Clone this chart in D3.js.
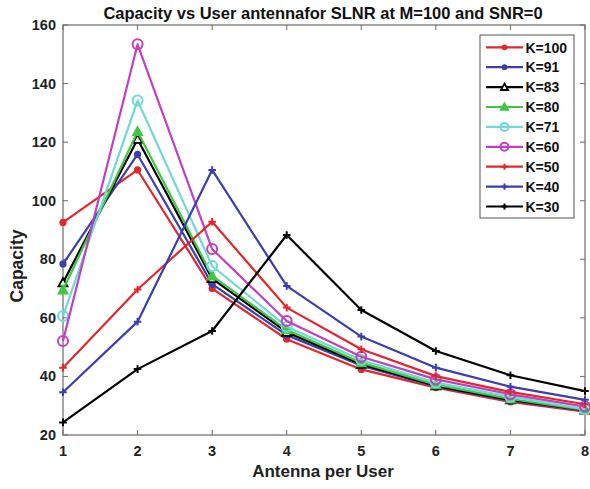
<!DOCTYPE html>
<html>
<head>
<meta charset="utf-8">
<script src="https://cdn.jsdelivr.net/npm/d3@7"></script>
<style>
  html, body { margin: 0; padding: 0; background: #fff; }
  svg { display: block; font-family: "Liberation Sans", Arial, sans-serif; }
</style>
</head>
<body>
<svg id="chart" width="590" height="489"></svg>
<script>
// Antenna count per user (x axis)
const antennas = [1, 2, 3, 4, 5, 6, 7, 8];

// Capacity per user count K
const k100 = [92.6, 110.5, 70.0, 52.7, 42.4, 36.2, 31.3, 28.0];
const k91  = [78.4, 115.8, 71.5, 54.1, 43.7, 36.6, 31.7, 28.3];
const k83  = [72.0, 121.0, 73.4, 55.1, 44.2, 36.8, 32.0, 28.5];
const k80  = [69.5, 123.6, 74.3, 55.9, 44.7, 37.2, 32.3, 28.6];
const k71  = [60.6, 134.2, 77.7, 57.0, 45.6, 37.9, 33.1, 28.8];
const k60  = [52.1, 153.4, 83.5, 58.9, 46.7, 39.0, 33.9, 29.7];
const k50  = [43.0, 69.7, 92.8, 63.5, 49.3, 40.1, 34.7, 30.5];
const k40  = [34.6, 58.7, 110.5, 70.9, 53.6, 43.0, 36.5, 32.0];
const k30  = [24.3, 42.5, 55.5, 88.3, 62.7, 48.7, 40.4, 35.0];

const xTicks = [1, 2, 3, 4, 5, 6, 7, 8];
const yTicks = [20, 40, 60, 80, 100, 120, 140, 160];

const series = [
  { name: "K=100", values: k100, color: "#e3262b", marker: "dot" },
  { name: "K=91",  values: k91,  color: "#3a3fae", marker: "dot" },
  { name: "K=83",  values: k83,  color: "#000000", marker: "triOpen" },
  { name: "K=80",  values: k80,  color: "#3fc83f", marker: "tri" },
  { name: "K=71",  values: k71,  color: "#6fd9d6", marker: "ring" },
  { name: "K=60",  values: k60,  color: "#c23fc2", marker: "ring" },
  { name: "K=50",  values: k50,  color: "#e3262b", marker: "plus" },
  { name: "K=40",  values: k40,  color: "#3a3fae", marker: "plus" },
  { name: "K=30",  values: k30,  color: "#000000", marker: "plus" }
];

const svg = d3.select("#chart");
const margin = { left: 63, right: 5, top: 25, bottom: 54 };
const W = 590, H = 489;
const x = d3.scaleLinear().domain([1, 8]).range([margin.left, W - margin.right]);
const y = d3.scaleLinear().domain([20, 160]).range([H - margin.bottom, margin.top]);

const axisColor = "#6b6b6b";

// Plot box
svg.append("rect")
  .attr("x", x(1)).attr("y", y(160))
  .attr("width", x(8) - x(1)).attr("height", y(20) - y(160))
  .attr("fill", "#fff").attr("stroke", axisColor).attr("stroke-width", 1.2);

// Inward ticks on all four sides
const tickLen = 5;
const tk = svg.append("g").attr("stroke", axisColor).attr("stroke-width", 1);
xTicks.forEach(t => {
  tk.append("line").attr("x1", x(t)).attr("x2", x(t)).attr("y1", y(20)).attr("y2", y(20) - tickLen);
  tk.append("line").attr("x1", x(t)).attr("x2", x(t)).attr("y1", y(160)).attr("y2", y(160) + tickLen);
});
yTicks.forEach(t => {
  tk.append("line").attr("x1", x(1)).attr("x2", x(1) + tickLen).attr("y1", y(t)).attr("y2", y(t));
  tk.append("line").attr("x1", x(8)).attr("x2", x(8) - tickLen).attr("y1", y(t)).attr("y2", y(t));
});

// Tick labels
svg.append("g").selectAll("text").data(xTicks).join("text")
  .attr("x", d => x(d)).attr("y", y(20) + 20.5)
  .attr("text-anchor", "middle")
  .attr("font-size", 14.5).attr("font-weight", "bold").attr("fill", "#222")
  .text(d => d);
svg.append("g").selectAll("text").data(yTicks).join("text")
  .attr("x", x(1) - 7).attr("y", d => y(d) + 5)
  .attr("text-anchor", "end")
  .attr("font-size", 14.5).attr("font-weight", "bold").attr("fill", "#222")
  .text(d => d);

// Titles
svg.append("text")
  .attr("x", 323).attr("y", 19)
  .attr("text-anchor", "middle").attr("font-size", 16.5).attr("font-weight", "bold").attr("fill", "#111")
  .text("Capacity vs User antennafor SLNR at M=100 and SNR=0");
svg.append("text")
  .attr("x", 323).attr("y", 477)
  .attr("text-anchor", "middle").attr("font-size", 17).attr("font-weight", "bold").attr("fill", "#222")
  .text("Antenna per User");
svg.append("text")
  .attr("transform", "translate(23, 266) rotate(-90)")
  .attr("text-anchor", "middle").attr("font-size", 17.5).attr("font-weight", "bold").attr("fill", "#222")
  .text("Capacity");

// Marker drawing helper; k scales the marker size
function drawMarker(g, type, color, cx, cy, k = 1) {
  if (type === "dot") {
    g.append("circle").attr("cx", cx).attr("cy", cy).attr("r", 3.6 * k).attr("fill", color);
  } else if (type === "ring") {
    g.append("circle").attr("cx", cx).attr("cy", cy).attr("r", 5 * k)
      .attr("fill", "none").attr("stroke", color).attr("stroke-width", 2);
  } else if (type === "tri" || type === "triOpen") {
    const s = 4.5 * k;
    g.append("path")
      .attr("d", `M${cx},${cy - s} L${cx + s},${cy + s * 0.8} L${cx - s},${cy + s * 0.8} Z`)
      .attr("fill", type === "tri" ? color : "#fff").attr("stroke", color).attr("stroke-width", 1.8);
  } else if (type === "plus") {
    const s = 3.8 * k;
    g.append("path")
      .attr("d", `M${cx - s},${cy} H${cx + s} M${cx},${cy - s} V${cy + s}`)
      .attr("stroke", color).attr("stroke-width", 2).attr("fill", "none");
  }
}

const line = d3.line().x((d, i) => x(antennas[i])).y(d => y(d));
const plot = svg.append("g");
series.forEach(s => {
  const g = plot.append("g");
  g.append("path").attr("d", line(s.values))
    .attr("fill", "none").attr("stroke", s.color).attr("stroke-width", 2.2)
    .attr("stroke-linejoin", "round");
  s.values.forEach((v, i) => drawMarker(g, s.marker, s.color, x(antennas[i]), y(v)));
});

// Legend
const lg = svg.append("g");
const lx = 480, ly = 35, lw = 94, rowH = 19.9;
lg.append("rect").attr("x", lx).attr("y", ly).attr("width", lw).attr("height", 183)
  .attr("fill", "#fff").attr("stroke", "#555").attr("stroke-width", 1);
series.forEach((s, i) => {
  const cy = ly + 12.3 + i * rowH;
  lg.append("line").attr("x1", lx + 6).attr("x2", lx + 43).attr("y1", cy).attr("y2", cy)
    .attr("stroke", s.color).attr("stroke-width", 2.2);
  drawMarker(lg, s.marker, s.color, lx + 24.5, cy, 0.8);
  lg.append("text").attr("x", lx + 45.5).attr("y", cy + 5.2)
    .attr("font-size", 14).attr("font-weight", "bold").attr("fill", "#111").text(s.name);
});
</script>
</body>
</html>
